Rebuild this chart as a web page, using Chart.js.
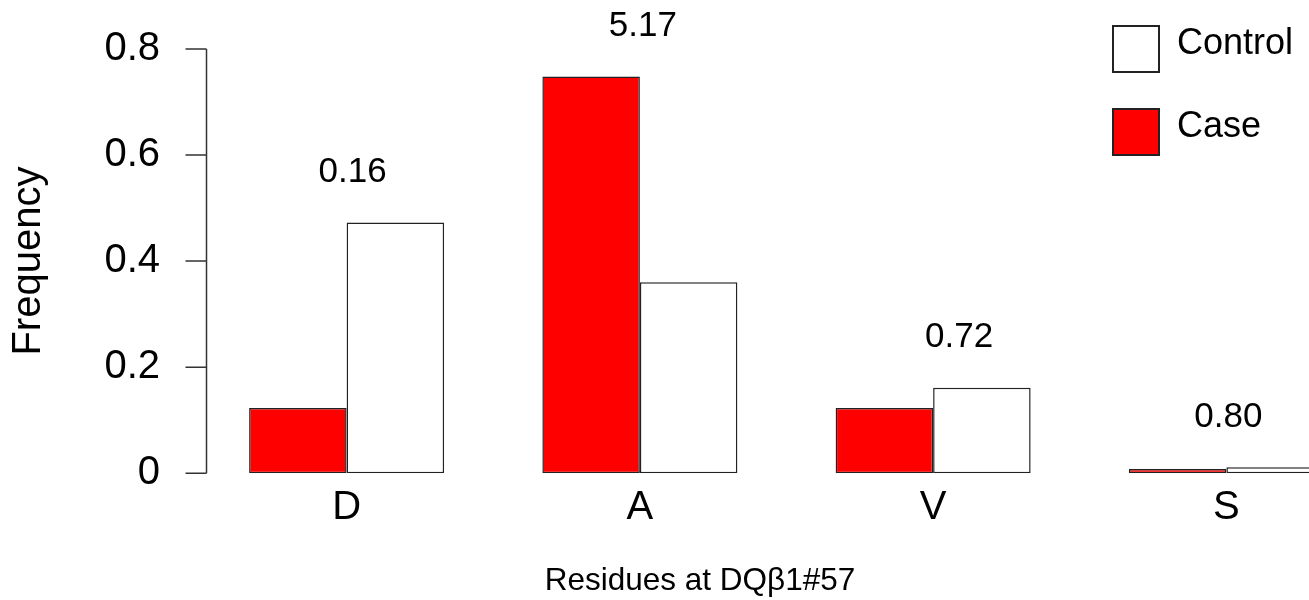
<!DOCTYPE html>
<html>
<head>
<meta charset="utf-8">
<title>Residues at DQβ1#57</title>
<script src="https://cdn.jsdelivr.net/npm/chart.js@4.4.1/dist/chart.umd.min.js"></script>
<style>
  html, body { margin: 0; padding: 0; background: #fff; overflow: hidden; }
  /* plot runs past the right edge of the window, like the reference */
  #wrap { width: 1400px; height: 600px; }
</style>
</head>
<body>
<div id="wrap"><canvas id="chart"></canvas></div>
<script>
// ---- data ----
const categories = ['D', 'A', 'V', 'S'];
const caseFreq = [0.123, 0.748, 0.123, 0.008];
const controlFreq = [0.473, 0.360, 0.161, 0.011];
const oddsRatios = ['0.16', '5.17', '0.72', '0.80'];
const yTicks = [0, 0.2, 0.4, 0.6, 0.8];

const INK = '#000000';
const EDGE = '#222222';
const FONT = '"Liberation Sans", Arial, Helvetica, sans-serif';

Chart.defaults.font.family = FONT;
Chart.defaults.color = INK;

/* R-style y axis: line only between first and last tick, ticks pointing out */
const rAxisPlugin = {
  id: 'rAxis',
  afterDraw(chart, args, opts) {
    const { ctx, chartArea, scales: { y } } = chart;
    const x0 = chartArea.left + opts.inset;
    ctx.save();
    ctx.strokeStyle = opts.color;
    ctx.lineWidth = opts.width;
    ctx.beginPath();
    ctx.moveTo(x0, y.getPixelForValue(yTicks[0]));
    ctx.lineTo(x0, y.getPixelForValue(yTicks[yTicks.length - 1]));
    yTicks.forEach((v) => {
      const py = y.getPixelForValue(v);
      ctx.moveTo(x0 - opts.tickLength, py);
      ctx.lineTo(x0, py);
    });
    ctx.stroke();
    ctx.restore();
  },
};

/* odds ratio above each pair of bars */
const oddsPlugin = {
  id: 'oddsLabels',
  afterDatasetsDraw(chart, args, opts) {
    const { ctx, scales: { x, y } } = chart;
    ctx.save();
    ctx.font = `${opts.size}px ${FONT}`;
    ctx.fillStyle = INK;
    ctx.textAlign = 'center';
    ctx.textBaseline = 'middle';
    categories.forEach((c, i) => {
      const top = Math.max(caseFreq[i], controlFreq[i]);
      const px = x.getPixelForValue(i) + opts.nudge[i];
      const py = y.getPixelForValue(top) - opts.gap;
      ctx.fillText(oddsRatios[i], px, py);
    });
    ctx.restore();
  },
};

/* boxed legend, Control listed first as in the reference */
const boxLegendPlugin = {
  id: 'boxLegend',
  afterDraw(chart, args, opts) {
    const { ctx } = chart;
    const items = chart.data.datasets.slice().reverse();
    ctx.save();
    ctx.font = `${opts.size}px ${FONT}`;
    ctx.textAlign = 'left';
    ctx.textBaseline = 'middle';
    items.forEach((ds, k) => {
      const top = opts.top + k * opts.rowGap;
      ctx.fillStyle = ds.backgroundColor;
      ctx.fillRect(opts.left, top, opts.box, opts.box);
      ctx.strokeStyle = EDGE;
      ctx.lineWidth = 2;
      ctx.strokeRect(opts.left, top, opts.box, opts.box);
      ctx.fillStyle = INK;
      ctx.fillText(ds.label, opts.left + opts.textGap, top + opts.box / 2 - 5);
    });
    ctx.restore();
  },
};

function barDataset(label, data, fill) {
  return {
    label,
    data,
    backgroundColor: fill,
    borderColor: EDGE,
    borderWidth: 1.5,
    borderSkipped: false,
    categoryPercentage: 0.665,
    barPercentage: 1,
  };
}

new Chart(document.getElementById('chart'), {
  type: 'bar',
  data: {
    labels: categories,
    datasets: [
      barDataset('Case', caseFreq, '#ff0000'),
      barDataset('Control', controlFreq, '#ffffff'),
    ],
  },
  options: {
    responsive: true,
    maintainAspectRatio: false,
    animation: false,
    layout: { padding: { left: 27, right: 27, top: 49, bottom: 0 } },
    scales: {
      x: {
        grid: { display: false, drawTicks: false },
        border: { display: false },
        ticks: { color: INK, font: { size: 40 }, padding: 11 },
      },
      y: {
        min: 0,
        max: 0.8,
        // hidden grid, but its tick length still pushes the labels off the axis
        grid: { display: false, drawTicks: true, tickLength: 38 },
        border: { display: false },
        ticks: { stepSize: 0.2, color: INK, font: { size: 40 }, padding: 2 },
        title: {
          display: true,
          text: 'Frequency',
          color: INK,
          font: { size: 40, lineHeight: 1 },
          padding: { top: -18, bottom: 0 },
        },
        afterFit(scale) { scale.width = 173; },
      },
    },
    plugins: {
      legend: { display: false },
      tooltip: { enabled: false },
      title: {
        display: true,
        position: 'bottom',
        text: 'Residues at DQβ1#57',
        color: INK,
        font: { size: 31.5, weight: 'normal' },
        padding: { top: 19, bottom: 0 },
      },
      rAxis: { inset: 6.5, tickLength: 21, color: '#333333', width: 1.5 },
      oddsLabels: { size: 35, gap: 50.5, nudge: [6, 3, 26, 2] },
      boxLegend: { left: 1113, top: 26, rowGap: 83, box: 46, textGap: 64, size: 36 },
    },
  },
  plugins: [rAxisPlugin, oddsPlugin, boxLegendPlugin],
});
</script>
</body>
</html>
